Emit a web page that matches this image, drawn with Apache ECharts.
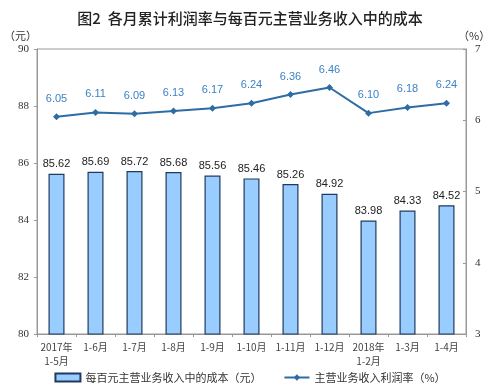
<!DOCTYPE html>
<html><head><meta charset="utf-8">
<script src="https://cdn.jsdelivr.net/npm/echarts@6/dist/echarts.min.js"></script>
<style>html,body{margin:0;padding:0;background:#fff}#c{width:500px;height:392px}</style>
</head><body><div id="c"></div>
<script>
const categories = ['2017年\n1-5月','1-6月','1-7月','1-8月','1-9月','1-10月','1-11月','1-12月','2018年\n1-2月','1-3月','1-4月'];
const costValues = [85.62,85.69,85.72,85.68,85.56,85.46,85.26,84.92,83.98,84.33,84.52];
const profitRate = [6.05,6.11,6.09,6.13,6.17,6.24,6.36,6.46,6.10,6.18,6.24];
const costName = '每百元主营业务收入中的成本（元）';
const rateName = '主营业务收入利润率（%）';
const titleText = '图2  各月累计利润率与每百元主营业务收入中的成本';

const cjk = '"Noto Sans CJK SC", sans-serif';
const chart = echarts.init(document.getElementById('c'));
chart.setOption({
  animation: false,
  title: { text: titleText, left: 'center', top: 6,
    textStyle: { fontFamily: cjk, fontSize: 15, fontWeight: 500, color: '#222' } },
  grid: { left: 37, right: 34, top: 49, bottom: 58, show: true, borderColor: '#999', borderWidth: 1 },
  legend: {
    bottom: 4, left: 'center', itemGap: 22, itemWidth: 25, itemHeight: 8,
    textStyle: { fontFamily: cjk, fontSize: 11, color: '#333' },
    data: [{ name: costName, icon: 'rect' }, { name: rateName }]
  },
  xAxis: {
    type: 'category', data: categories, boundaryGap: true,
    axisLine: { lineStyle: { color: '#999' } },
    axisTick: { show: true, length: 3, lineStyle: { color: '#999' } },
    axisLabel: { fontFamily: cjk, fontSize: 10, color: '#444', lineHeight: 14, margin: 6, interval: 0 }
  },
  yAxis: [
    { type: 'value', min: 80, max: 90, interval: 2, name: '（元）',
      nameLocation: 'end', nameGap: 8, nameTextStyle: { fontFamily: cjk, fontSize: 11, color: '#333', align: 'right', padding: [0, 0, 0, 0] },
      splitLine: { show: false },
      axisLine: { show: true, lineStyle: { color: '#999' } },
      axisTick: { show: true, length: 3, lineStyle: { color: '#999' } },
      axisLabel: { fontFamily: '"Liberation Serif", serif', fontSize: 11, color: '#333', margin: 8 } },
    { type: 'value', min: 3, max: 7, interval: 1, name: '（%）', position: 'right',
      nameLocation: 'end', nameGap: 8, nameTextStyle: { fontFamily: cjk, fontSize: 11, color: '#333', align: 'left', padding: [0, 0, 0, -8] },
      splitLine: { show: false },
      axisLine: { show: true, lineStyle: { color: '#999' } },
      axisTick: { show: true, inside: true, length: 3, lineStyle: { color: '#999' } },
      axisLabel: { fontFamily: '"Liberation Serif", serif', fontSize: 11, color: '#333', margin: 9 } }
  ],
  series: [
    { name: costName, type: 'bar', data: costValues, barWidth: 16, yAxisIndex: 0,
      itemStyle: { color: '#99CCFF', borderColor: '#1F3A5F', borderWidth: 1.2 },
      label: { show: true, position: 'top', distance: 4, formatter: p => p.value.toFixed(2),
        fontFamily: '"Liberation Sans", Arial, sans-serif', fontSize: 11, color: '#222' } },
    { name: rateName, type: 'line', data: profitRate, yAxisIndex: 1,
      symbol: 'diamond', symbolSize: 7,
      lineStyle: { color: '#2E6DA4', width: 2 },
      itemStyle: { color: '#2E6DA4' },
      label: { show: true, position: 'top', distance: 9, formatter: p => p.value.toFixed(2),
        fontFamily: '"Liberation Sans", Arial, sans-serif', fontSize: 11, color: '#3C82C4' } }
  ]
});
</script></body></html>
